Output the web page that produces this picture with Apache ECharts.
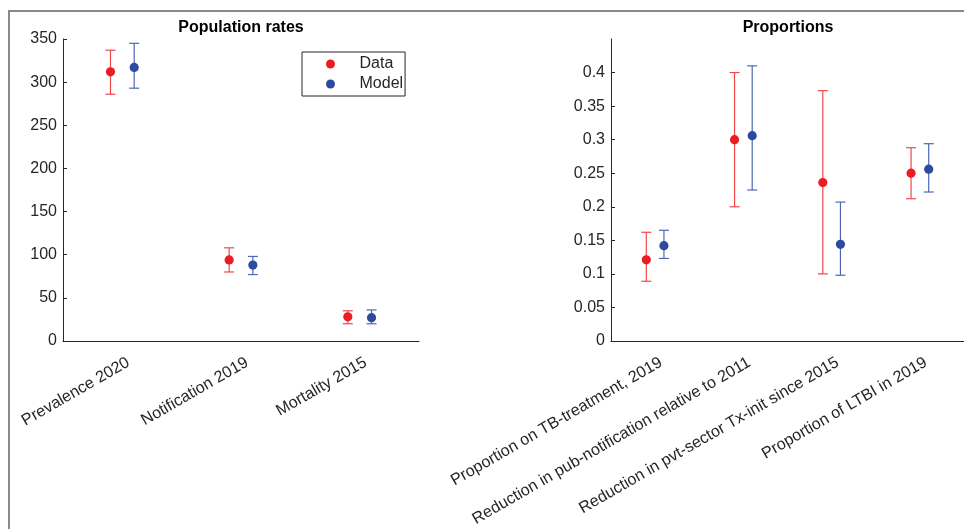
<!DOCTYPE html>
<html>
<head>
<meta charset="utf-8">
<script src="https://cdn.jsdelivr.net/npm/echarts@6/dist/echarts.min.js"></script>
<style>html,body{margin:0;padding:0;background:#fff;}#c{width:964px;height:529px;}</style>
</head>
<body>
<div id="c"></div>
<script>
const leftCats = ['Prevalence 2020', 'Notification 2019', 'Mortality 2015'];
const leftData = [312, 94, 28];
const leftDataLo = [286, 80, 20];
const leftDataHi = [337, 108, 35];
const leftModel = [317, 88, 27];
const leftModelLo = [293, 77, 20];
const leftModelHi = [345, 98, 36];

const rightCats = ['Proportion on TB-treatment, 2019', 'Reduction in pub-notification relative to 2011', 'Reduction in pvt-sector Tx-init since 2015', 'Proportion of LTBI in 2019'];
const rightData = [0.121, 0.300, 0.236, 0.250];
const rightDataLo = [0.089, 0.200, 0.100, 0.212];
const rightDataHi = [0.162, 0.400, 0.373, 0.288];
const rightModel = [0.142, 0.306, 0.144, 0.256];
const rightModelLo = [0.123, 0.225, 0.098, 0.222];
const rightModelHi = [0.165, 0.410, 0.207, 0.294];

const leftTicks = [0, 50, 100, 150, 200, 250, 300, 350];
const rightTicks = [0, 0.05, 0.1, 0.15, 0.2, 0.25, 0.3, 0.35, 0.4];

const FONT = 'Liberation Sans, Arial, Helvetica, sans-serif';
const AX = '#262626';
const RED = '#ed1c24', RED_BAR = '#f0474b';
const BLUE = '#2c4aa0', BLUE_BAR = '#4d67b6';

function rows(v, lo, hi) { return v.map((d, i) => [i, d, lo[i], hi[i]]); }

function makeRender(sign, markColor, barColor) {
  return function (params, api) {
    const idx = api.value(0);
    const band = api.size([1, 0])[0];
    const off = sign * 0.1 * band;
    const c = api.coord([idx, api.value(1)]);
    const x = c[0] + off;
    const yl = api.coord([idx, api.value(2)])[1];
    const yh = api.coord([idx, api.value(3)])[1];
    const cap = 5;
    const ls = { stroke: barColor, lineWidth: 1.2 };
    return {
      type: 'group',
      children: [
        { type: 'line', shape: { x1: x, y1: yl, x2: x, y2: yh }, style: ls },
        { type: 'line', shape: { x1: x - cap, y1: yl, x2: x + cap, y2: yl }, style: ls },
        { type: 'line', shape: { x1: x - cap, y1: yh, x2: x + cap, y2: yh }, style: ls },
        { type: 'circle', shape: { cx: x, cy: c[1], r: 4.6 }, style: { fill: markColor } }
      ]
    };
  };
}

function series(name, idx, data, sign, mc, bc) {
  return {
    type: 'custom', name: name, xAxisIndex: idx, yAxisIndex: idx,
    renderItem: makeRender(sign, mc, bc),
    itemStyle: { color: mc },
    encode: { x: 0, y: [1, 2, 3] },
    data: data, clip: false
  };
}

function xAxis(gi, cats) {
  return {
    type: 'category', gridIndex: gi, data: cats, boundaryGap: true,
    axisLine: { lineStyle: { color: AX, width: 1 } },
    axisTick: { inside: true, length: 4, alignWithLabel: true, lineStyle: { color: AX } },
    axisLabel: { interval: 0, rotate: 30, margin: 10, align: 'right', verticalAlign: 'top', padding: [4, 0, 0, 0],
      fontSize: 16.2, color: AX, fontFamily: FONT },
    splitLine: { show: false }
  };
}

function yAxis(gi, max, ticks, interval) {
  return {
    type: 'value', gridIndex: gi, min: 0, max: max, interval: interval,
    axisLine: { show: true, lineStyle: { color: AX, width: 1 } },
    axisTick: { show: true, inside: true, length: 4, customValues: ticks, lineStyle: { color: AX } },
    axisLabel: { customValues: ticks, margin: 6, fontSize: 16, color: AX, fontFamily: FONT },
    splitLine: { show: false }
  };
}

const chart = echarts.init(document.getElementById('c'), null, { renderer: 'canvas' });
chart.setOption({
  animation: false,
  backgroundColor: '#fff',
  title: [
    { text: 'Population rates', left: 241, top: 20, padding: 0, textAlign: 'center',
      textStyle: { fontSize: 16, fontWeight: 'bold', color: '#000', fontFamily: FONT } },
    { text: 'Proportions', left: 788, top: 20, padding: 0, textAlign: 'center',
      textStyle: { fontSize: 16, fontWeight: 'bold', color: '#000', fontFamily: FONT } }
  ],
  legend: {
    data: ['Data', 'Model'], orient: 'vertical', left: 302, top: 52,
    padding: [4, 2, 4, 24], itemGap: 4, itemWidth: 48, itemHeight: 9, icon: 'circle',
    borderColor: '#262626', borderWidth: 1, backgroundColor: '#fff',
    textStyle: { fontSize: 16, color: AX, fontFamily: FONT }
  },
  grid: [
    { left: 63, top: 39, width: 356, bottom: 188, containLabel: false },
    { left: 611, top: 39, width: 355, bottom: 188, containLabel: false }
  ],
  xAxis: [xAxis(0, leftCats), xAxis(1, rightCats)],
  yAxis: [yAxis(0, 350, leftTicks, 50), yAxis(1, 0.45, rightTicks, 0.05)],
  graphic: [
    { type: 'rect', shape: { x: 9, y: 11, width: 1000, height: 600 }, style: { fill: null, stroke: '#8a8a8a', lineWidth: 2 }, silent: true, z: -1 }
  ],
  series: [
    series('Data', 0, rows(leftData, leftDataLo, leftDataHi), -1, RED, RED_BAR),
    series('Model', 0, rows(leftModel, leftModelLo, leftModelHi), 1, BLUE, BLUE_BAR),
    series('Data', 1, rows(rightData, rightDataLo, rightDataHi), -1, RED, RED_BAR),
    series('Model', 1, rows(rightModel, rightModelLo, rightModelHi), 1, BLUE, BLUE_BAR)
  ]
});
</script>
</body>
</html>
